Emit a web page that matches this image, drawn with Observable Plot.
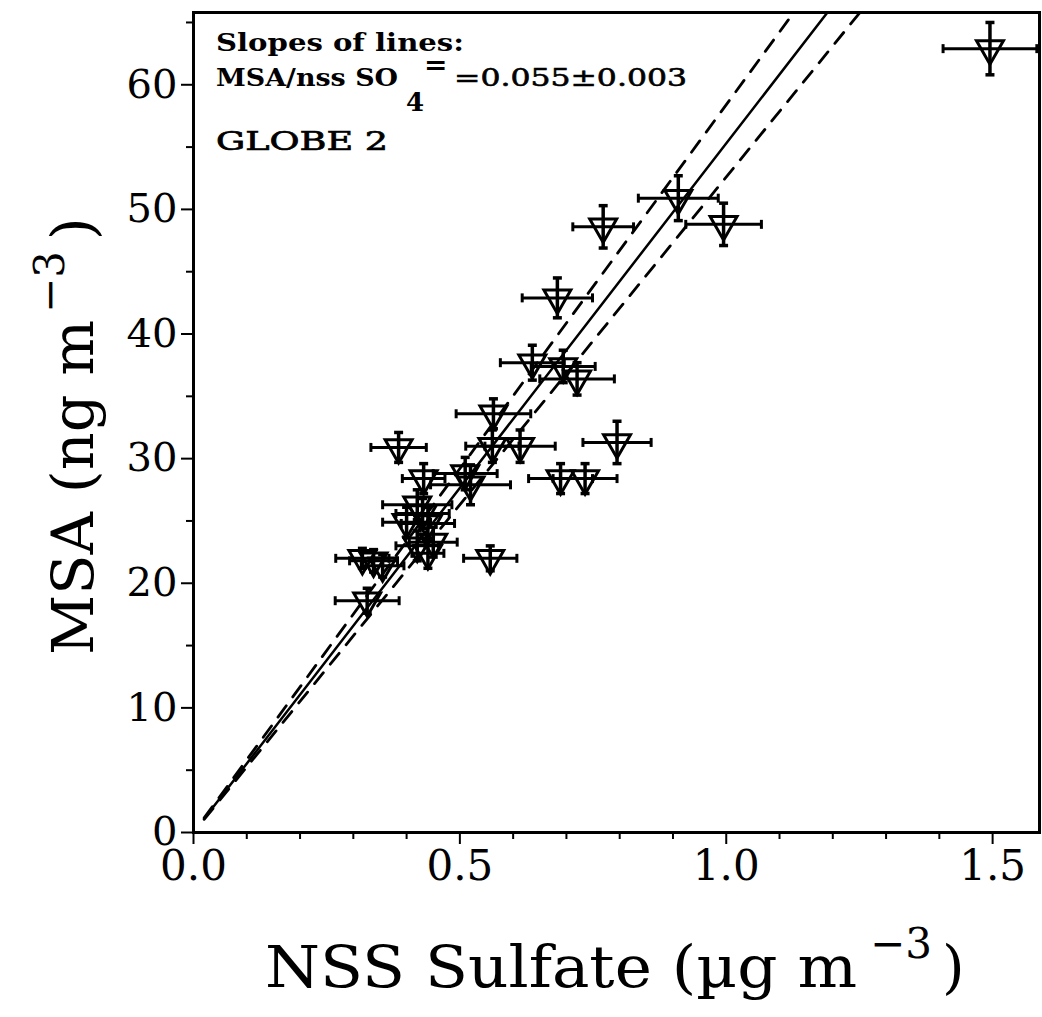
<!DOCTYPE html>
<html><head><meta charset="utf-8">
<script src="https://cdn.jsdelivr.net/npm/d3@7"></script>
<script src="https://cdn.jsdelivr.net/npm/@observablehq/plot@0.6"></script>
<style>body{margin:0;background:#fff} svg{display:block}</style>
</head><body><div id="chart"></div>
<script>
// NSS sulfate (µg m-3), MSA (ng m-3) and their uncertainties
const nssSulfate = [1.495, 0.910, 0.995, 0.769, 0.683, 0.636, 0.694, 0.720, 0.563, 0.561, 0.613, 0.795, 0.689, 0.735, 0.385, 0.432, 0.510, 0.520, 0.420, 0.400, 0.440, 0.450, 0.420, 0.440, 0.430, 0.557, 0.317, 0.338, 0.355, 0.326];
const msa        = [62.9, 50.9, 48.8, 48.6, 42.9, 37.7, 37.4, 36.4, 33.6, 31.0, 31.0, 31.3, 28.4, 28.4, 30.9, 28.4, 28.8, 27.9, 26.3, 24.9, 24.8, 23.3, 23.0, 22.4, 25.6, 22.0, 22.0, 21.8, 21.4, 18.6];
const nssErr     = [0.088, 0.075, 0.071, 0.057, 0.066, 0.060, 0.060, 0.070, 0.070, 0.050, 0.066, 0.064, 0.060, 0.060, 0.052, 0.040, 0.060, 0.075, 0.065, 0.045, 0.050, 0.045, 0.040, 0.030, 0.050, 0.050, 0.050, 0.045, 0.040, 0.060];
const msaErr     = [2.1, 1.8, 1.7, 1.7, 1.6, 1.4, 1.3, 1.3, 1.2, 1.3, 1.3, 1.7, 1.2, 1.2, 1.2, 1.2, 1.3, 1.6, 1.2, 1.2, 1.3, 1.2, 1.2, 1.2, 1.2, 1.0, 0.8, 0.9, 0.9, 1.0];
// regression slope and ± bounds (ng MSA per µg sulfate)
const lineNames  = ["fit", "upper", "lower"];
const lineSlopes = [55.3, 58.4, 52.6];
const lineXRange = [0.02, 1.35];
const xTicks = [0, 0.5, 1.0, 1.5];
const xMinor = [0.1, 0.2, 0.3, 0.4, 0.6, 0.7, 0.8, 0.9, 1.1, 1.2, 1.3, 1.4];
const yTicks = [0, 10, 20, 30, 40, 50, 60];
const yMinor = [5, 15, 25, 35, 45, 55, 65];

const pts = nssSulfate.map((x, i) => ({x, y: msa[i], xe: nssErr[i], ye: msaErr[i]}));
const lines = lineNames.flatMap((name, k) => lineXRange.map(x => ({name, x, y: lineSlopes[k] * x})));

const hcap = {draw(ctx, size) { const r = Math.sqrt(size / Math.PI); ctx.moveTo(-r, 0); ctx.lineTo(r, 0); }};
const vcap = {draw(ctx, size) { const r = Math.sqrt(size / Math.PI); ctx.moveTo(0, -r); ctx.lineTo(0, r); }};

const W = 1042, H = 1017;
const plot = Plot.plot({
  width: W, height: H,
  marginLeft: 193, marginRight: 3, marginTop: 12, marginBottom: 185,
  style: {fontFamily: "DejaVu Serif", background: "white", color: "black"},
  x: {domain: [0, 1.588]},
  y: {domain: [0, 65.8]},
  marks: [
    Plot.line(lines.filter(d => d.name === "fit"), {x: "x", y: "y", stroke: "black", strokeWidth: 2.5, clip: true}),
    Plot.line(lines.filter(d => d.name !== "fit"), {x: "x", y: "y", z: "name", stroke: "black", strokeWidth: 2.8, strokeDasharray: "14,11", clip: true}),
    Plot.dot(pts, {x: "x", y: "y", symbol: "triangle", rotate: 180, r: 10, fill: "none", stroke: "black", strokeWidth: 3}),
    Plot.ruleY(pts, {y: "y", x1: d => d.x - d.xe, x2: d => d.x + d.xe, stroke: "black", strokeWidth: 3, clip: true}),
    Plot.ruleX(pts, {x: "x", y1: d => d.y - d.ye, y2: d => d.y + d.ye, stroke: "black", strokeWidth: 3.5}),
    Plot.dot(pts, {x: d => d.x - d.xe, y: "y", symbol: vcap, r: 4.5, fill: "none", stroke: "black", strokeWidth: 3}),
    Plot.dot(pts, {x: d => d.x + d.xe, y: "y", symbol: vcap, r: 4.5, fill: "none", stroke: "black", strokeWidth: 3, clip: true}),
    Plot.dot(pts, {x: "x", y: d => d.y - d.ye, symbol: hcap, r: 4.5, fill: "none", stroke: "black", strokeWidth: 3.5}),
    Plot.dot(pts, {x: "x", y: d => d.y + d.ye, symbol: hcap, r: 4.5, fill: "none", stroke: "black", strokeWidth: 3.5}),
    Plot.axisX(xTicks, {tickSize: 12, tickPadding: 6, fontSize: 42, strokeWidth: 2, tickFormat: d3.format(".1f"), label: null}),
    Plot.axisX(xMinor, {tickSize: 7, strokeWidth: 2, tickFormat: () => "", label: null}),
    Plot.axisY(yTicks, {tickSize: 12, tickPadding: 4, fontSize: 40, strokeWidth: 2, label: null}),
    Plot.axisY(yMinor, {tickSize: 7, strokeWidth: 2, tickFormat: () => "", label: null}),
    Plot.frame({stroke: "black", strokeWidth: 3})
  ]
});
document.getElementById("chart").appendChild(plot);

// annotations & axis titles with sub/superscripts
const svg = d3.select(plot);
const g = svg.append("g").attr("font-family", "DejaVu Serif").attr("fill", "black").attr("text-anchor", "start");
g.append("text").attr("x", 216).attr("y", 51).attr("font-size", 24).attr("font-weight", "bold")
  .attr("textLength", 248).attr("lengthAdjust", "spacingAndGlyphs").text("Slopes of lines:");
g.append("text").attr("x", 216).attr("y", 86).attr("font-size", 25).attr("font-weight", "bold")
  .attr("textLength", 182).attr("lengthAdjust", "spacingAndGlyphs").text("MSA/nss SO");
g.append("text").attr("x", 406).attr("y", 111).attr("font-size", 26).attr("font-weight", "bold").text("4");
g.append("text").attr("x", 424).attr("y", 74).attr("font-size", 28).attr("font-weight", "bold").text("=");
g.append("text").attr("x", 454).attr("y", 86).attr("font-size", 25).attr("stroke", "black").attr("stroke-width", 0.6)
  .attr("textLength", 233).attr("lengthAdjust", "spacingAndGlyphs").text("=0.055±0.003");
g.append("text").attr("x", 216).attr("y", 150).attr("font-size", 26).attr("stroke", "black").attr("stroke-width", 0.7)
  .attr("textLength", 172).attr("lengthAdjust", "spacingAndGlyphs").text("GLOBE 2");

// x-axis title
g.append("text").attr("x", 265).attr("y", 987).attr("font-size", 58)
  .attr("textLength", 592).attr("lengthAdjust", "spacingAndGlyphs").text("NSS Sulfate (µg m");
g.append("text").attr("x", 870).attr("y", 958).attr("font-size", 42).text("−3");
g.append("text").attr("x", 942).attr("y", 987).attr("font-size", 58).text(")");

// y-axis title
const yg = g.append("g").attr("transform", "translate(93,0) rotate(-90)");
yg.append("text").attr("x", -655).attr("y", 0).attr("font-size", 58)
  .attr("textLength", 335).attr("lengthAdjust", "spacingAndGlyphs").text("MSA (ng m");
yg.append("text").attr("x", -313).attr("y", -29).attr("font-size", 42).text("−3");
yg.append("text").attr("x", -240).attr("y", 0).attr("font-size", 58).text(")");
</script>
</body></html>
